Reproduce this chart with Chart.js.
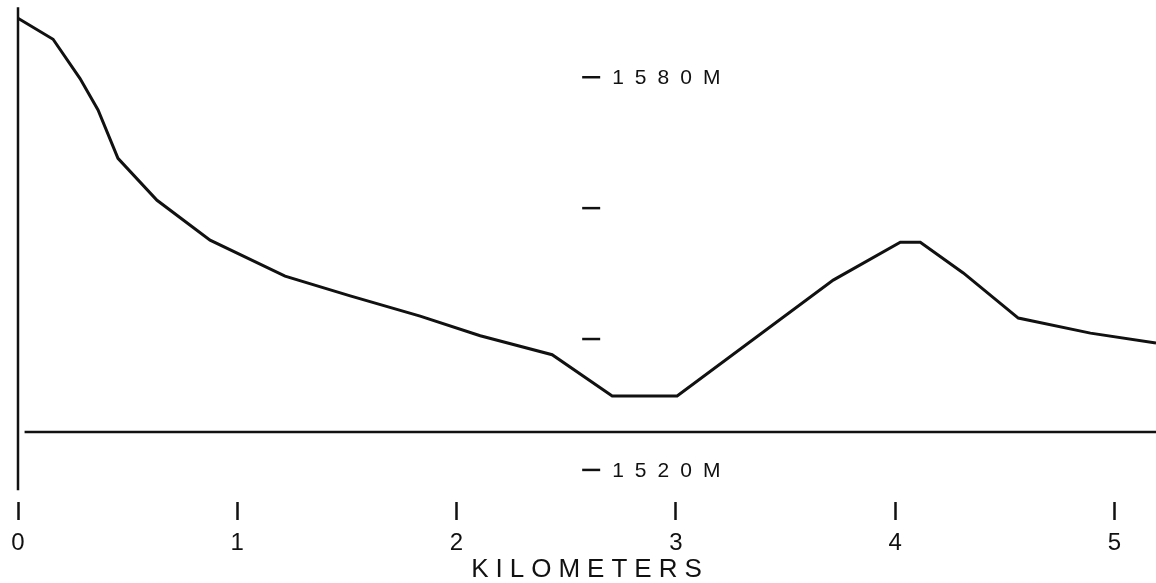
<!DOCTYPE html>
<html>
<head>
<meta charset="utf-8">
<script src="https://cdn.jsdelivr.net/npm/chart.js@4"></script>
<style>
  html, body { margin: 0; padding: 0; background: #fff; }
  #wrap { width: 1156px; height: 583px; }
</style>
</head>
<body>
<div id="wrap"><canvas id="perfil"></canvas></div>
<script>
// profile
const kmVals = [0, 0.16, 0.283, 0.365, 0.456, 0.634, 0.876, 1.218, 1.515, 1.834, 2.108, 2.436, 2.71, 3.006, 3.718, 4.024, 4.115, 4.311, 4.562, 4.891, 5.19]
const elevVals = [1589.0, 1585.8, 1579.8, 1575.0, 1567.6, 1561.2, 1555.1, 1549.6, 1546.6, 1543.5, 1540.5, 1537.6, 1531.3, 1531.3, 1549.0, 1554.8, 1554.8, 1550.1, 1543.2, 1540.9, 1539.4]

// horizontal reference line and the left edge line
const baseKm = [0.03, 5.19]
const baseElev = [1525.8, 1525.8]
const edgeKm = [0, 0]
const edgeElev = [1516.9, 1590.7]

// axes
const xTicks = [0, 1, 2, 3, 4, 5]
const yTicks = [1520, 1540, 1560, 1580]
const yLabels = ['1520M', '', '', '1580M']
const yAxisKm = 2.573
const xTitle = 'KILOMETERS'

function pts(xs, ys) {
	return xs.map((x, i) => ({ x: x, y: ys[i] }))
}

const tinta = '#111'

const eixoCentral = {
	id: 'eixoCentral',
	afterDatasetsDraw(chart) {
		const ctx = chart.ctx
		const xs = chart.scales.x
		const ys = chart.scales.y
		const x0 = xs.getPixelForValue(yAxisKm)
		ctx.save()
		ctx.strokeStyle = tinta
		ctx.fillStyle = tinta
		ctx.lineWidth = 2.5
		ctx.font = '21px "Liberation Sans", Arial, sans-serif'
		ctx.letterSpacing = '11px'
		ctx.textBaseline = 'middle'
		ctx.textAlign = 'left'
		yTicks.forEach((v, i) => {
			const y = ys.getPixelForValue(v)
			ctx.beginPath()
			ctx.moveTo(x0, y)
			ctx.lineTo(x0 + 18, y)
			ctx.stroke()
			if (yLabels[i]) ctx.fillText(yLabels[i], x0 + 30, y + 1)
		})
		// x axis title
		ctx.font = '26px "Liberation Sans", Arial, sans-serif'
		ctx.letterSpacing = '7px'
		ctx.textAlign = 'center'
		ctx.fillText(xTitle, (xs.left + xs.right) / 2 + 3, 570)
		ctx.restore()
	}
}

const config = {
	type: 'line',
	data: {
		datasets: [{
			data: pts(kmVals, elevVals),
			borderColor: tinta,
			borderWidth: 3,
			pointRadius: 0,
			tension: 0,
			clip: false
		}, {
			data: pts(baseKm, baseElev),
			borderColor: tinta,
			borderWidth: 2.5,
			pointRadius: 0,
			clip: false
		}, {
			data: pts(edgeKm, edgeElev),
			borderColor: tinta,
			borderWidth: 2.5,
			pointRadius: 0,
			clip: false
		}]
	},
	options: {
		responsive: true,
		maintainAspectRatio: false,
		animation: false,
		layout: { padding: { left: 18, right: 0, top: 0, bottom: 0 } },
		plugins: {
			legend: { display: false },
			tooltip: { enabled: false }
		},
		scales: {
			x: {
				type: 'linear',
				min: 0,
				max: 5.19,
				afterFit: (s) => { s.height = 81 },
				afterBuildTicks: (s) => { s.ticks = xTicks.map(v => ({ value: v })) },
				border: { display: false },
				grid: {
					drawOnChartArea: false,
					drawTicks: true,
					tickLength: 18,
					tickWidth: 2.5,
					tickColor: tinta
				},
				ticks: {
					includeBounds: false,
					maxRotation: 0,
					padding: 9,
					color: tinta,
					font: { family: '"Liberation Sans", Arial, sans-serif', size: 24 }
				}
			},
			y: {
				display: false,
				min: 1515.1,
				max: 1591.8
			}
		}
	},
	plugins: [eixoCentral]
}

const ctxPerfil = document.getElementById('perfil').getContext('2d')
window.graficoPerfil = new Chart(ctxPerfil, config)
</script>
</body>
</html>
